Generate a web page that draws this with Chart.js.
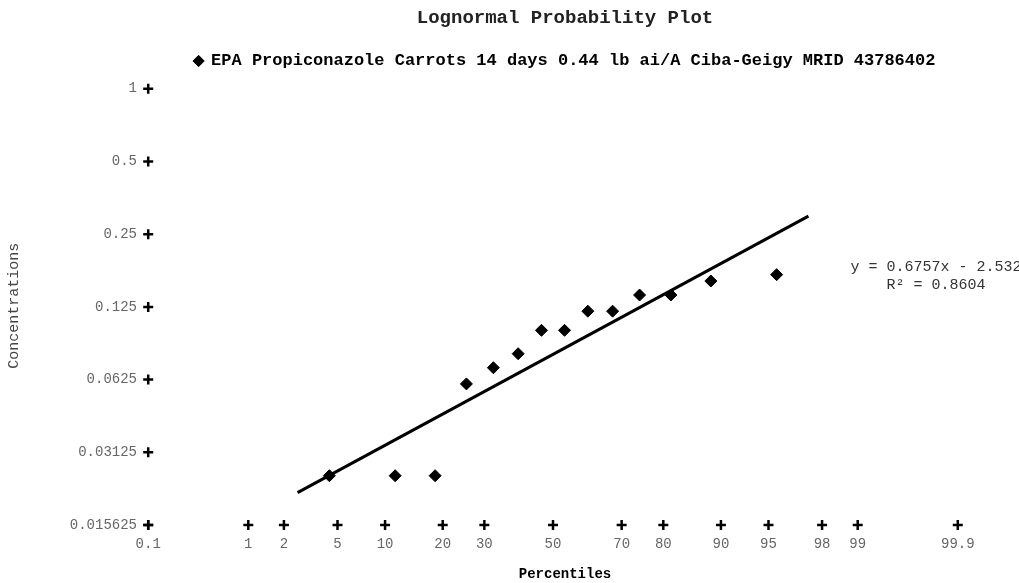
<!DOCTYPE html>
<html>
<head>
<meta charset="utf-8">
<title>Lognormal Probability Plot</title>
<script src="https://cdn.jsdelivr.net/npm/chart.js@4"></script>
<style>
  body { margin: 0; background: #fff; }
  #wrap { width: 1019px; height: 583px; }
</style>
</head>
<body>
<div id="wrap"><canvas id="plot"></canvas></div>
<script>
// percentile axis: labels and their normal scores
const percentileLabels = ['0.1', '1', '2', '5', '10', '20', '30', '50', '70', '80', '90', '95', '98', '99', '99.9'];
const percentileZ = [-3.09, -2.326, -2.054, -1.645, -1.282, -0.842, -0.524, 0, 0.524, 0.842, 1.282, 1.645, 2.054, 2.326, 3.09];

// concentration axis (doubling steps)
const concTicks = [1, 0.5, 0.25, 0.125, 0.0625, 0.03125, 0.015625];
const concLabels = ['1', '0.5', '0.25', '0.125', '0.0625', '0.03125', '0.015625'];

// residue data (plotting position z, concentration)
const residueZ = [-1.707, -1.205, -0.900, -0.661, -0.455, -0.266, -0.088, 0.088, 0.266, 0.455, 0.661, 0.900, 1.205, 1.707];
const residues = [0.025, 0.025, 0.025, 0.06, 0.07, 0.08, 0.10, 0.10, 0.12, 0.12, 0.14, 0.14, 0.16, 0.17];

// fitted line, ln(conc) = slope * z + intercept
const trendSlope = 0.6757;
const trendIntercept = -2.532;
const trendZ = [-1.95, 1.95];
const rSquared = 0.8604;

const seriesName = 'EPA Propiconazole Carrots 14 days 0.44 lb ai/A Ciba-Geigy MRID 43786402';
const mono = "'Liberation Mono', 'Courier New', monospace";

const residuePts = residueZ.map((z, i) => ({ x: z, y: residues[i] }));
const trendPts = trendZ.map(z => ({ x: z, y: Math.exp(trendIntercept + trendSlope * z) }));
const yMarks = concTicks.map(v => ({ x: percentileZ[0], y: v }));
const xMarks = percentileZ.map(z => ({ x: z, y: concTicks[concTicks.length - 1] }));

// regression text next to the line
const equationText = {
  id: 'equationText',
  afterDraw(chart) {
    const ctx = chart.ctx;
    ctx.save();
    ctx.fillStyle = '#333';
    ctx.font = '15px ' + mono;
    ctx.textBaseline = 'middle';
    ctx.textAlign = 'center';
    ctx.fillText('y = ' + trendSlope + 'x - ' + Math.abs(trendIntercept), 936, 267);
    ctx.fillText('R\u00b2 = ' + rSquared, 936, 285);
    ctx.restore();
  }
};

new Chart(document.getElementById('plot'), {
  type: 'scatter',
  data: {
    datasets: [
      {
        label: seriesName,
        data: residuePts,
        pointStyle: 'rectRot',
        pointRadius: 6,
        backgroundColor: '#000',
        borderColor: '#000',
        order: 1
      },
      {
        label: 'trend',
        data: trendPts,
        showLine: true,
        borderColor: '#000',
        borderWidth: 3,
        pointRadius: 0,
        order: 2
      },
      {
        label: 'y marks',
        data: yMarks,
        pointStyle: 'cross',
        pointRadius: 5,
        borderWidth: 2.5,
        borderColor: '#000'
      },
      {
        label: 'x marks',
        data: xMarks,
        pointStyle: 'cross',
        pointRadius: 5,
        borderWidth: 2.5,
        borderColor: '#000'
      }
    ]
  },
  options: {
    responsive: true,
    maintainAspectRatio: false,
    animation: false,
    layout: { padding: { top: 0, right: 29, bottom: 0, left: 0 } },
    plugins: {
      tooltip: { enabled: false },
      title: {
        display: true,
        fullSize: false,
        text: 'Lognormal Probability Plot',
        color: '#222',
        font: { family: mono, size: 19 },
        padding: { top: 7, bottom: 12.7 }
      },
      legend: {
        display: true,
        fullSize: false,
        labels: {
          filter: item => item.datasetIndex === 0,
          usePointStyle: true,
          boxWidth: 8,
          boxHeight: 8,
          padding: 10,
          color: '#000',
          font: { family: mono, size: 17, weight: 'bold' }
        }
      }
    },
    scales: {
      x: {
        type: 'linear',
        min: -3.1527,
        max: 3.3359,
        grid: { display: false, drawTicks: false },
        border: { display: false },
        afterFit: s => { s.height = 51; },
        afterBuildTicks: s => { s.ticks = percentileZ.map(z => ({ value: z })); },
        ticks: {
          autoSkip: false,
          maxRotation: 0,
          padding: 4,
          color: '#666',
          font: { family: mono, size: 14 },
          callback: (v, i) => percentileLabels[i]
        },
        title: {
          display: true,
          text: 'Percentiles',
          color: '#000',
          font: { family: mono, size: 14, weight: 'bold' },
          padding: { top: 0, bottom: 0 }
        }
      },
      y: {
        type: 'logarithmic',
        min: 0.01462,
        max: 1.0926,
        grid: { display: false, drawTicks: false },
        border: { display: false },
        afterFit: s => { s.width = 140; },
        afterBuildTicks: s => { s.ticks = concTicks.map(v => ({ value: v })); },
        ticks: {
          autoSkip: false,
          padding: 3,
          color: '#666',
          font: { family: mono, size: 14 },
          callback: (v, i) => concLabels[i]
        },
        title: {
          display: true,
          text: 'Concentrations',
          color: '#444',
          font: { family: mono, size: 15 },
          padding: { top: 5, bottom: 0 }
        }
      }
    }
  },
  plugins: [equationText]
});
</script>
</body>
</html>
